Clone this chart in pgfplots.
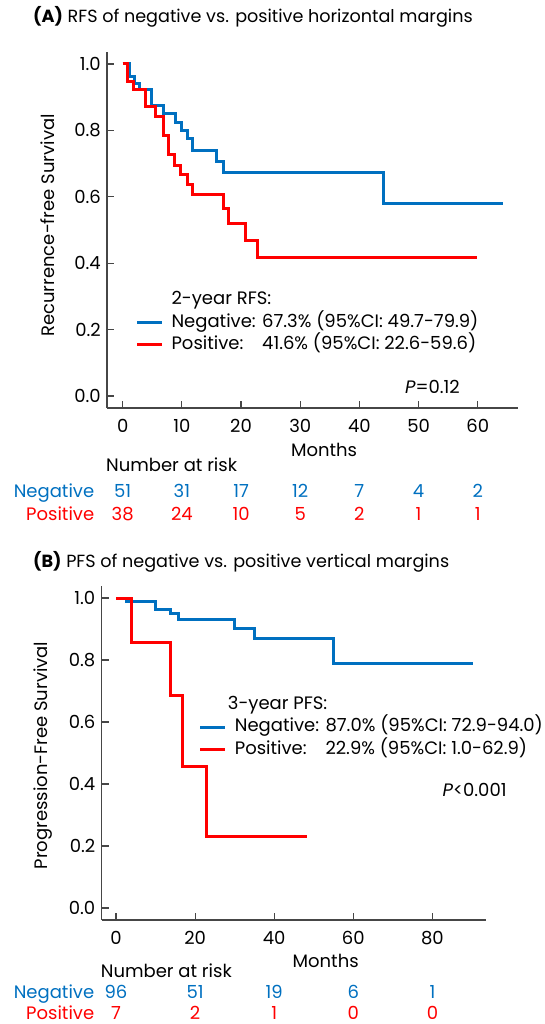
\documentclass[border=0pt]{standalone}
\usepackage{fontspec}
\setmainfont{Poppins}
\usepackage{pgfplots}
\pgfplotsset{compat=1.18}
\definecolor{negblue}{RGB}{0,112,192}
\definecolor{posred}{RGB}{255,0,0}
\definecolor{axgray}{RGB}{70,70,70}
\newlength\negw
\pgfplotsset{
 km/.style={
  scale only axis, axis lines*=left,
  axis line style={axgray, line width=1.2pt, -},
  tick align=inside, major tick length=7pt,
  major tick style={axgray, line width=1.2pt},
  /pgf/number format/assume math mode=true,
  yticklabel style={/pgf/number format/.cd, fixed, fixed zerofill, precision=1},
  xticklabel style={yshift=-5pt},
  clip=false,
  legend cell align=left,
  legend style={draw=none, fill=none, inner sep=0pt, row sep=5.3pt, column sep=8pt,
    nodes={inner sep=0pt, text height=13pt, text depth=4pt}},
  legend image code/.code={\draw[##1, line width=3pt] (0pt,0pt) -- (25pt,0pt);},
 },
 negc/.style={negblue, line width=3pt, const plot, no marks},
 posc/.style={posred, line width=3pt, const plot, no marks},
}
\begin{document}%
\fontsize{18}{21}\selectfont%
\settowidth\negw{Negative: }%
\begin{tikzpicture}
\path[use as bounding box] (0pt,0pt) rectangle (544pt,1024pt);
% ---------------- Panel A ----------------
\begin{axis}[km, at={(107pt,616pt)}, anchor=south west,
  width=411pt, height=356pt,
  xmin=-2.65, xmax=66.8, ymin=-0.036, ymax=1.036,
  xtick={0,10,20,30,40,50,60}, ytick={0,0.2,0.4,0.6,0.8,1},
  xlabel={Months},
  xlabel style={at={(axis description cs:0.528,-0.119)}, anchor=center},
  ylabel={Recurrence-free Survival},
  ylabel style={at={(axis description cs:-0.1436,0.5126)}, anchor=center},
  title={\fontsize{17.6}{20}\selectfont\textbf{(A)} RFS of negative vs. positive horizontal margins},
  title style={at={(axis description cs:-0.1946,1.0815)}, anchor=west},
  legend style={at={(axis description cs:0.069,0.327)}, anchor=north west},
]
\addlegendimage{empty legend}
\addlegendentry{2-year RFS:}
\addplot[negc] coordinates {(0,1) (1.1,0.961) (2.0,0.941) (2.9,0.922) (4.9,0.875) (6.9,0.852) (9.0,0.824) (10.0,0.801) (11.0,0.774) (11.8,0.740) (15.9,0.705) (17.0,0.673) (44.0,0.579) (64.2,0.579)};
\addlegendentry{Negative: 67.3\% (95\%CI: 49.7-79.9)}
\addplot[posc] coordinates {(0,1) (0.8,0.947) (1.8,0.922) (3.9,0.872) (5.6,0.841) (6.9,0.786) (7.8,0.727) (8.8,0.695) (9.8,0.667) (10.9,0.637) (11.8,0.607) (17.0,0.566) (17.8,0.521) (20.8,0.468) (22.8,0.417) (59.9,0.417)};
\addlegendentry{\makebox[\negw][l]{Positive:}41.6\% (95\%CI: 22.6-59.6)}
\node[anchor=base east, inner sep=0pt] at (axis cs:57.0,0.008) {\textit{P}=0.12};
\node[anchor=base west, inner sep=0pt] at (axis cs:-2.82,-0.228) {Number at risk};
\node[anchor=base east, inner sep=0pt, text=negblue] at (axis cs:-4.78,-0.307) {Negative};
\node[anchor=base east, inner sep=0pt, text=posred] at (axis cs:-4.78,-0.374) {Positive};
\node[anchor=base, inner sep=0pt, text=negblue] at (axis cs:0,-0.307) {51};
\node[anchor=base, inner sep=0pt, text=negblue] at (axis cs:10,-0.307) {31};
\node[anchor=base, inner sep=0pt, text=negblue] at (axis cs:20,-0.307) {17};
\node[anchor=base, inner sep=0pt, text=negblue] at (axis cs:30,-0.307) {12};
\node[anchor=base, inner sep=0pt, text=negblue] at (axis cs:40,-0.307) {7};
\node[anchor=base, inner sep=0pt, text=negblue] at (axis cs:50,-0.307) {4};
\node[anchor=base, inner sep=0pt, text=negblue] at (axis cs:60,-0.307) {2};
\node[anchor=base, inner sep=0pt, text=posred] at (axis cs:0,-0.374) {38};
\node[anchor=base, inner sep=0pt, text=posred] at (axis cs:10,-0.374) {24};
\node[anchor=base, inner sep=0pt, text=posred] at (axis cs:20,-0.374) {10};
\node[anchor=base, inner sep=0pt, text=posred] at (axis cs:30,-0.374) {5};
\node[anchor=base, inner sep=0pt, text=posred] at (axis cs:40,-0.374) {2};
\node[anchor=base, inner sep=0pt, text=posred] at (axis cs:50,-0.374) {1};
\node[anchor=base, inner sep=0pt, text=posred] at (axis cs:60,-0.374) {1};
\end{axis}
% ---------------- Panel B ----------------
\begin{axis}[km, at={(101.5pt,104pt)}, anchor=south west,
  width=384.5pt, height=334pt,
  xmin=-3.67, xmax=93.55, ymin=-0.039, ymax=1.039,
  xtick={0,20,40,60,80}, ytick={0,0.2,0.4,0.6,0.8,1},
  xlabel={Months},
  xlabel style={at={(axis description cs:0.583,-0.1216)}, anchor=center},
  ylabel={Progression-Free Survival},
  ylabel style={at={(axis description cs:-0.153,0.4925)}, anchor=center},
  title={\fontsize{17.6}{20}\selectfont\textbf{(B)} PFS of negative vs. positive vertical margins},
  title style={at={(axis description cs:-0.1938,1.0553)}, anchor=west},
  legend style={at={(axis description cs:0.2528,0.670)}, anchor=north west},
]
\addlegendimage{empty legend}
\addlegendentry{\hspace*{-7pt}3-year PFS:}
\addplot[negc] coordinates {(0,1) (2.7,0.990) (9.9,0.963) (13.8,0.950) (15.9,0.932) (29.9,0.902) (34.9,0.868) (54.9,0.789) (90.2,0.789)};
\addlegendentry{Negative: 87.0\% (95\%CI: 72.9-94.0)}
\addplot[posc] coordinates {(0,1) (3.96,0.857) (13.8,0.686) (16.9,0.457) (22.9,0.229) (48.2,0.229)};
\addlegendentry{\makebox[\negw][l]{Positive:}22.9\% (95\%CI: 1.0-62.9)}
\node[anchor=base east, inner sep=0pt] at (axis cs:98.8,0.360) {\textit{P}<0.001};
\node[anchor=base west, inner sep=0pt] at (axis cs:-3.87,-0.2235) {Number at risk};
\node[anchor=base east, inner sep=0pt, text=negblue] at (axis cs:-5.46,-0.293) {Negative};
\node[anchor=base east, inner sep=0pt, text=posred] at (axis cs:-5.46,-0.361) {Positive};
\node[anchor=base, inner sep=0pt, text=negblue] at (axis cs:0,-0.293) {96};
\node[anchor=base, inner sep=0pt, text=negblue] at (axis cs:20,-0.293) {51};
\node[anchor=base, inner sep=0pt, text=negblue] at (axis cs:40,-0.293) {19};
\node[anchor=base, inner sep=0pt, text=negblue] at (axis cs:60,-0.293) {6};
\node[anchor=base, inner sep=0pt, text=negblue] at (axis cs:80,-0.293) {1};
\node[anchor=base, inner sep=0pt, text=posred] at (axis cs:0,-0.361) {7};
\node[anchor=base, inner sep=0pt, text=posred] at (axis cs:20,-0.361) {2};
\node[anchor=base, inner sep=0pt, text=posred] at (axis cs:40,-0.361) {1};
\node[anchor=base, inner sep=0pt, text=posred] at (axis cs:60,-0.361) {0};
\node[anchor=base, inner sep=0pt, text=posred] at (axis cs:80,-0.361) {0};
\end{axis}
\end{tikzpicture}%
\end{document}
